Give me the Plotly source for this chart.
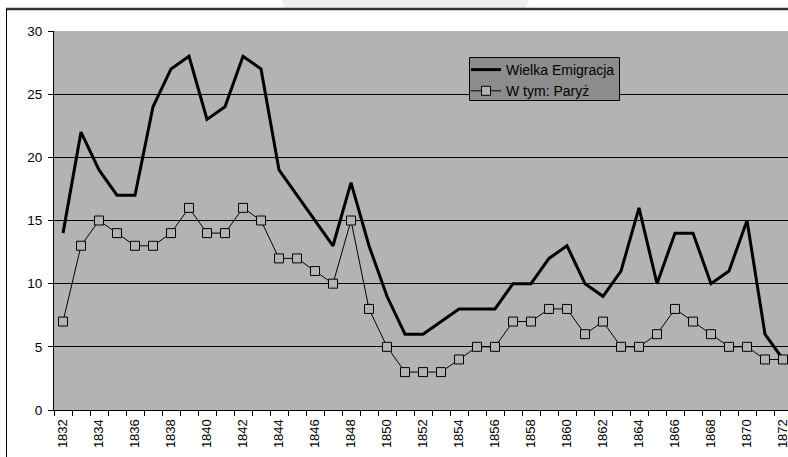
import plotly.graph_objects as go

years = list(range(1832, 1873))
wielka = [14, 22, 19, 17, 17, 24, 27, 28, 23, 24, 28, 27, 19, 17, 15, 13, 18, 13, 9, 6, 6,
          7, 8, 8, 8, 10, 10, 12, 13, 10, 9, 11, 16, 10, 14, 14, 10, 11, 15, 6, 4]
paryz = [7, 13, 15, 14, 13, 13, 14, 16, 14, 14, 16, 15, 12, 12, 11, 10, 15, 8, 5, 3, 3,
         3, 4, 5, 5, 7, 7, 8, 8, 6, 7, 5, 5, 6, 8, 7, 6, 5, 5, 4, 4]
tick_years = list(range(1832, 1873, 2))
y_ticks = [0, 5, 10, 15, 20, 25, 30]

W, H = 788, 457
L, R, T, B = 54, 0, 31, 47
pw, ph = W - L - R, H - T - B

def px(x):
    return (x - L) / pw

def py(y):
    return (H - B - y) / ph

fig = go.Figure()
fig.add_trace(go.Scatter(x=years, y=wielka, mode="lines", name="Wielka Emigracja",
                         line=dict(color="black", width=3)))
fig.add_trace(go.Scatter(x=years, y=paryz, mode="lines+markers", name="W tym: Paryż",
                         line=dict(color="black", width=1),
                         marker=dict(symbol="square", size=9, color="#b3b3b3",
                                     line=dict(color="black", width=1))))

shapes = [
    # faint decorative shape at top (clipped above the frame line)
    dict(type="path", xref="paper", yref="paper", layer="below",
         path="M {a},{t} L {b},{m} L {c},{m} L {d},{t} Z".format(
             a=px(280), b=px(285), c=px(525), d=px(530), t=py(-2), m=py(9)),
         fillcolor="#f0f0f0", line=dict(width=0)),
    # outer frame top line
    dict(type="line", xref="paper", yref="paper", x0=px(6), x1=px(800), y0=py(9), y1=py(9),
         line=dict(color="#333333", width=2.5)),
    # outer frame left line
    dict(type="line", xref="paper", yref="paper", x0=px(6.5), x1=px(6.5), y0=py(9), y1=py(470),
         line=dict(color="black", width=1)),
    # legend box
    dict(type="rect", xref="paper", yref="paper", layer="above",
         x0=px(469.5), x1=px(619.5), y0=py(100.5), y1=py(57.5),
         fillcolor="#8c8c8c", line=dict(color="black", width=1)),
]

fig.update_layout(
    width=W, height=H,
    margin=dict(l=L, r=R, t=T, b=B, autoexpand=False),
    paper_bgcolor="white",
    plot_bgcolor="#b3b3b3",
    font=dict(family="Liberation Sans, Arial, sans-serif", size=13, color="black"),
    showlegend=True,
    legend=dict(x=px(466), y=py(54), xanchor="left", yanchor="top",
                bgcolor="rgba(0,0,0,0)", borderwidth=0,
                font=dict(size=14, color="black"), itemwidth=30,
                tracegroupgap=0),
    shapes=shapes,
    xaxis=dict(range=[1831.5, 1831.5 + pw / 18.0], tickvals=tick_years,
               ticktext=[str(y) for y in tick_years], tickangle=-90,
               ticks="", showgrid=False, zeroline=False,
               showline=True, linecolor="black", linewidth=1,
               tickfont=dict(size=13), ticklabeloverflow="allow",
               ticklabelstandoff=3,
               minor=dict(tick0=1831.5, dtick=1, ticks="outside", ticklen=5,
                          tickcolor="black", tickwidth=1, showgrid=False)),
    yaxis=dict(range=[0, 30], tickvals=y_ticks, ticks="outside", ticklen=5,
               tickcolor="black", showgrid=True, gridcolor="black", gridwidth=1,
               zeroline=False, showline=True, linecolor="black", linewidth=1,
               tickfont=dict(size=13.5), ticklabelstandoff=3),
)

fig.write_html("out.html", config={"displayModeBar": False},
               post_script="document.body.style.margin='0';document.body.style.overflow='hidden';")
